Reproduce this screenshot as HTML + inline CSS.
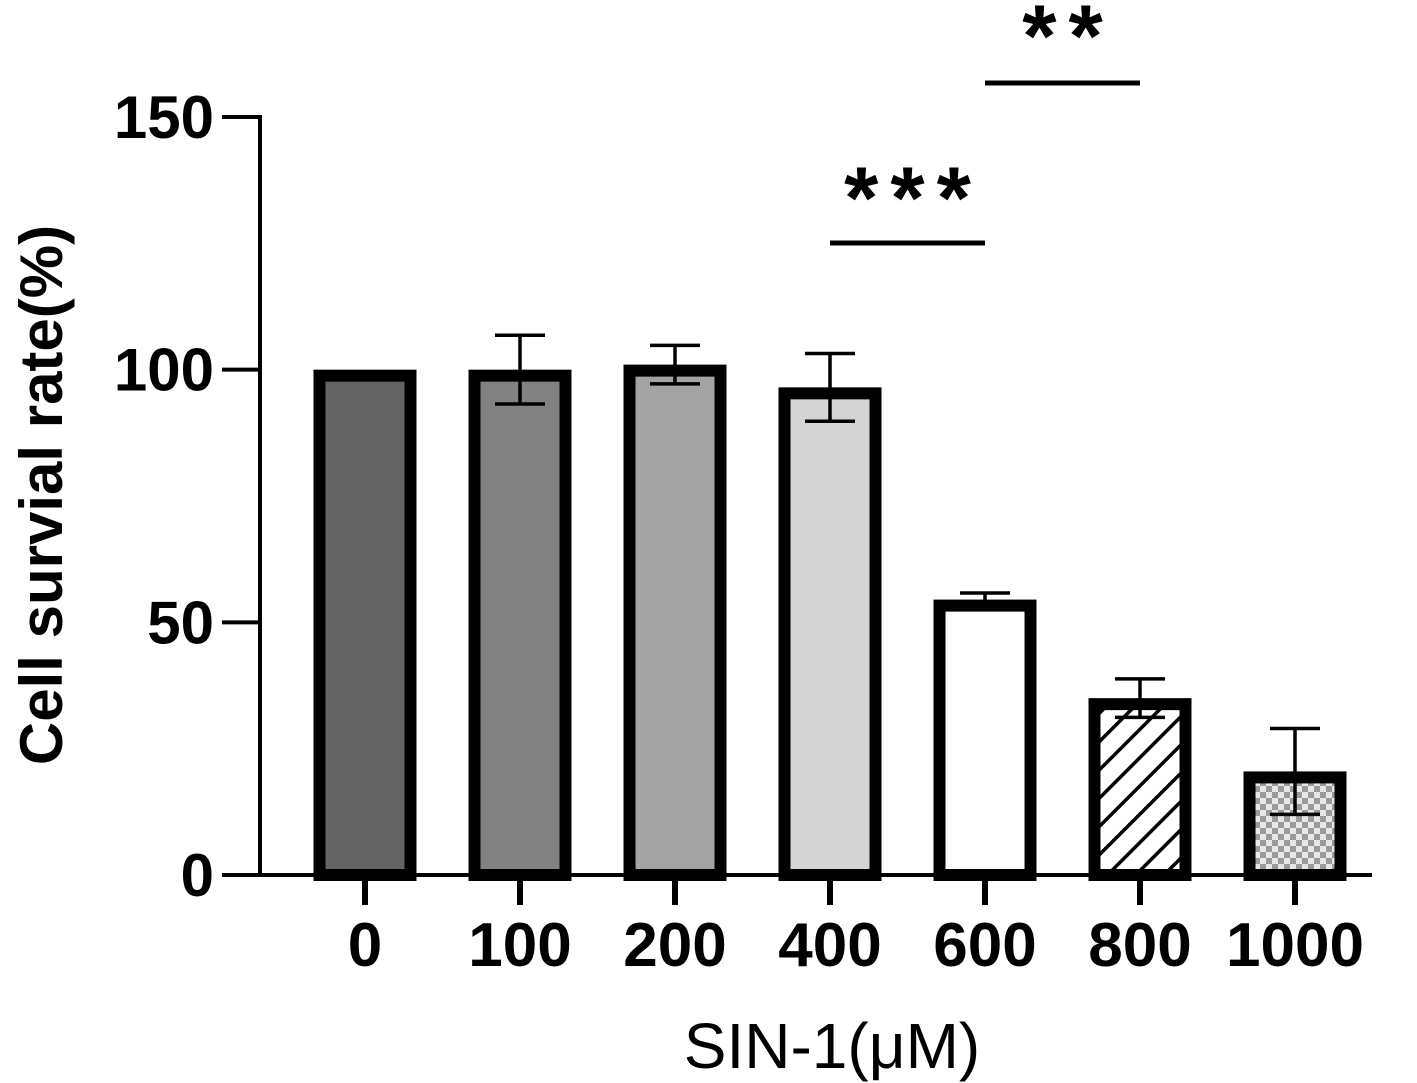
<!DOCTYPE html>
<html><head><meta charset="utf-8"><style>
html,body{margin:0;padding:0;background:#fff;}
svg{display:block;font-family:"Liberation Sans",Arial,sans-serif;}
</style></head><body>
<svg id="chart" width="1417" height="1083" viewBox="0 0 1417 1083">
<defs>
<pattern id="hatch" patternUnits="userSpaceOnUse" width="20" height="20" patternTransform="rotate(-45)">
<rect width="20" height="20" fill="#fff"/><rect x="0" y="0" width="20" height="3.5" fill="#000"/></pattern>
<pattern id="checker" patternUnits="userSpaceOnUse" width="12" height="12">
<rect width="12" height="12" fill="#e6e6e6"/><rect width="6" height="6" fill="#9a9a9a"/><rect x="6" y="6" width="6" height="6" fill="#9a9a9a"/></pattern>
</defs>
<g id="plot"></g>
</svg>
<script>
const categories = ["0","100","200","400","600","800","1000"];
const values = [100, 100, 101, 96.5, 54.5, 35, 20.5];
const errors = [0, 6.8, 3.8, 6.7, 1.3, 3.8, 8.5];
const fills = ["#646464","#828282","#a3a3a3","#d4d4d4","#ffffff","url(#hatch)","url(#checker)"];
const yTicks = [0, 50, 100, 150];

const NS = "http://www.w3.org/2000/svg";
const g = document.getElementById("plot");
const y0 = 875, yTop = 117, yMax = 150;
const y = v => y0 - (v / yMax) * (y0 - yTop);
const x = i => 365 + i * 155;
const bw = 103, bt = 12;
function el(tag, attrs, parent){ const e = document.createElementNS(NS, tag); for (const k in attrs) e.setAttribute(k, attrs[k]); (parent||g).appendChild(e); return e; }

let a = el("line", {x1:260, y1:y(150)-2, x2:260, y2:y0+2, stroke:"#000","stroke-width":4});


a = el("line", {x1:258, y1:y0, x2:1372, y2:y0, stroke:"#000","stroke-width":4});



yTicks.forEach(t => {
  const l = el("line", {x1:222, y1:y(t), x2:260, y2:y(t), stroke:"#000","stroke-width":4});
  
  
  const tx = el("text", {x:214, y:y(t)+21, "text-anchor":"end","font-size":60,"font-weight":"bold"});
  tx.textContent = t;
  
  
});

categories.forEach((c, i) => {
  const cx = x(i);
  const top = y(values[i]);
  if (errors[i] > 0) {
    const eu = y(values[i] + errors[i]), ed = y(values[i] - errors[i]);
    const eb = el("path", {d:`M${cx},${ed} L${cx},${eu} M${cx-25},${eu} L${cx+25},${eu} M${cx-25},${ed} L${cx+25},${ed}`, stroke:"#000","stroke-width":3.5, fill:"none"});
    
    
  }
  const r = el("rect", {x:cx - bw/2 + bt/2, y:top + bt/2, width:bw - bt, height:y0 - top - bt/2, fill:fills[i], stroke:"#000","stroke-width":bt});
  
  
  g.insertBefore(r, g.firstChild);
  const tk = el("line", {x1:cx, y1:y0, x2:cx, y2:905, stroke:"#000","stroke-width":6});
  
  
  const lb = el("text", {x:cx, y:966, "text-anchor":"middle","font-size":62,"font-weight":"bold"});
  lb.textContent = c;
  
  
});

const sig = [[3,4,243,"***",228],[4,5,83,"**",66]];
sig.forEach(s => {
  const l = el("line", {x1:x(s[0]), y1:s[2], x2:x(s[1]), y2:s[2], stroke:"#000","stroke-width":5});
  
  
  const t = el("text", {x:(x(s[0])+x(s[1]))/2 + 6, y:s[4], "text-anchor":"middle","font-size":88,"font-weight":"bold","letter-spacing":12});
  t.textContent = s[3];
  
  
});

let xt = el("text", {x:832, y:1068, "text-anchor":"middle","font-size":64});
xt.textContent = "SIN-1(μM)";


let yt = el("text", {x:0, y:0, "text-anchor":"middle","font-size":60,"font-weight":"bold", transform:"translate(62,495) rotate(-90)"});
yt.textContent = "Cell survial rate(%)";


</script>
</body></html>
